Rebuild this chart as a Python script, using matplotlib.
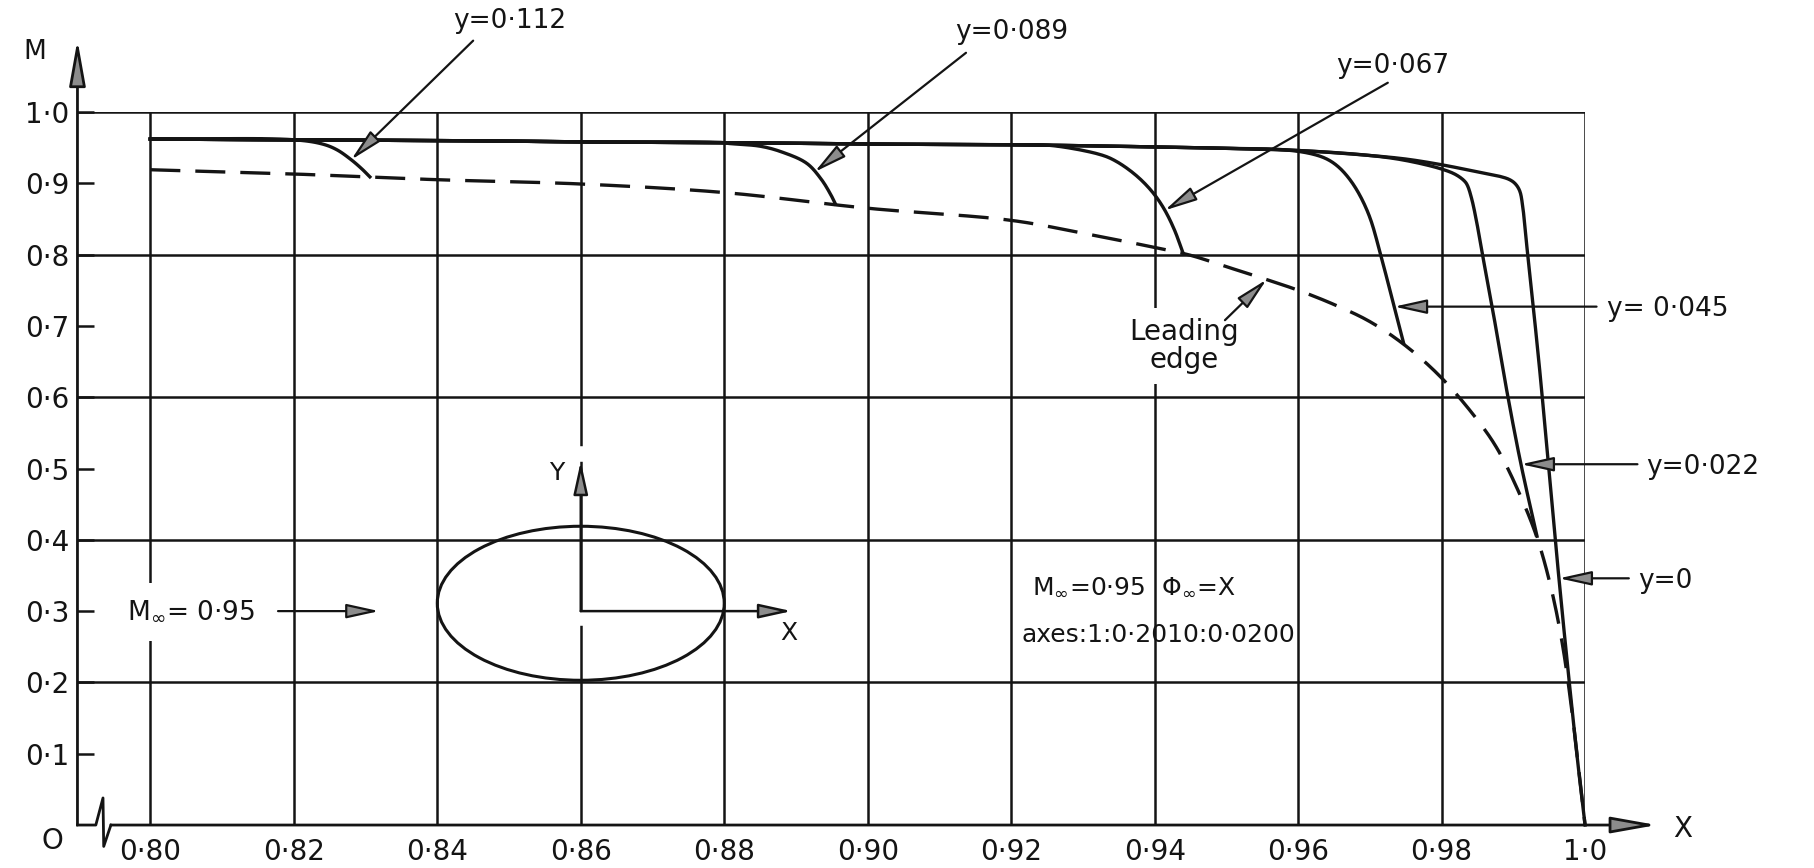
import numpy as np
import matplotlib.pyplot as plt
from matplotlib.patches import Ellipse

plt.rcParams['font.family'] = ['DejaVu Sans']
ink = '#141414'
head_fc = '#8c8c8c'

# --- Mach number along lines y = const (ellipsoid 1:0.2010:0.0200, M_inf = 0.95) ---
# upper branch common to every station
top_x = [0.800, 0.820, 0.840, 0.860, 0.880, 0.900, 0.920, 0.940, 0.950, 0.960, 0.970]
top_m = [0.962, 0.961, 0.960, 0.958, 0.957, 0.955, 0.954, 0.951, 0.949, 0.946, 0.939]

# branch of each station down to the leading edge
y112_x = [0.8200, 0.8240, 0.8260, 0.8280, 0.8295, 0.8306]
y112_m = [0.961, 0.955, 0.947, 0.933, 0.920, 0.909]
y089_x = [0.8805, 0.8850, 0.8880, 0.8915, 0.8935, 0.8948, 0.8955]
y089_m = [0.956, 0.952, 0.944, 0.928, 0.906, 0.885, 0.871]
y067_x = [0.9256, 0.9325, 0.9346, 0.9373, 0.9395, 0.9412, 0.9427, 0.9440]
y067_m = [0.953, 0.940, 0.931, 0.912, 0.890, 0.866, 0.836, 0.801]
y045_x = [0.9580, 0.9620, 0.9640, 0.9655, 0.9670, 0.9685, 0.9700, 0.9715, 0.9731, 0.9747]
y045_m = [0.947, 0.941, 0.934, 0.924, 0.908, 0.885, 0.852, 0.800, 0.738, 0.676]
y022_x = [0.9750, 0.9800, 0.9820, 0.9832, 0.9836, 0.9842, 0.9849, 0.9857, 0.9872, 0.9888,
          0.9910, 0.9933]
y022_m = [0.932, 0.920, 0.912, 0.903, 0.897, 0.878, 0.845, 0.800, 0.718, 0.625,
          0.509, 0.405]
y000_x = [0.9750, 0.9800, 0.9850, 0.9880, 0.9895, 0.9903, 0.9909, 0.9913, 0.9917, 0.9920,
          0.9929, 0.9938, 0.9948, 0.9958, 0.9968, 0.9978, 0.9989, 1.0000]
y000_m = [0.934, 0.926, 0.916, 0.910, 0.905, 0.899, 0.889, 0.868, 0.830, 0.800,
          0.715, 0.625, 0.515, 0.405, 0.300, 0.200, 0.095, 0.000]

# Mach number on the leading edge
le_x = [0.800, 0.820, 0.840, 0.860, 0.880, 0.900, 0.920, 0.930, 0.940, 0.945, 0.950, 0.955,
        0.960, 0.965, 0.970, 0.975, 0.980, 0.985, 0.9878, 0.9908, 0.9933, 0.9952, 0.9968,
        0.9982, 0.9993, 1.000]
le_m = [0.919, 0.913, 0.905, 0.899, 0.887, 0.865, 0.848, 0.830, 0.810, 0.799, 0.783, 0.767,
        0.750, 0.730, 0.706, 0.672, 0.627, 0.568, 0.527, 0.466, 0.403, 0.335, 0.256,
        0.157, 0.060, 0.000]

x_ticks = [0.80, 0.82, 0.84, 0.86, 0.88, 0.90, 0.92, 0.94, 0.96, 0.98, 1.00]
x_labels = ['0·80', '0·82', '0·84', '0·86', '0·88', '0·90', '0·92', '0·94', '0·96', '0·98', '1·0']
m_ticks = [0.1, 0.2, 0.3, 0.4, 0.5, 0.6, 0.7, 0.8, 0.9, 1.0]
m_labels = ['0·1', '0·2', '0·3', '0·4', '0·5', '0·6', '0·7', '0·8', '0·9', '1·0']
m_grid = [0.2, 0.4, 0.6, 0.8, 1.0]

x0 = 0.78984  # position of the M axis


def arrow(tail, tip, lw=1.6, hl=1.0, hw=0.22):
    ax.annotate('', xy=tip, xytext=tail, annotation_clip=False,
                arrowprops=dict(arrowstyle=f'-|>,head_length={hl},head_width={hw}',
                                mutation_scale=20, lw=lw, ec=ink, fc=head_fc,
                                shrinkA=0, shrinkB=0))


def station(bx, bm):
    xs = [x for x in top_x if x < bx[0]] + list(bx)
    ms = [m for x, m in zip(top_x, top_m) if x < bx[0]] + list(bm)
    return xs, ms


def smooth(xs, ms, n=16):
    # centripetal Catmull-Rom through the points, worked out in screen-like units
    sc = np.array([7175.0, 713.0])
    p = np.column_stack([xs, ms]) * sc
    p = np.vstack([2 * p[0] - p[1], p, 2 * p[-1] - p[-2]])
    out = [p[1]]
    for i in range(1, len(p) - 2):
        p0, p1, p2, p3 = p[i - 1], p[i], p[i + 1], p[i + 2]
        t0 = 0.0
        t1 = t0 + np.linalg.norm(p1 - p0) ** 0.5
        t2 = t1 + np.linalg.norm(p2 - p1) ** 0.5
        t3 = t2 + np.linalg.norm(p3 - p2) ** 0.5
        for t in np.linspace(t1, t2, n)[1:]:
            a1 = (t1 - t) / (t1 - t0) * p0 + (t - t0) / (t1 - t0) * p1
            a2 = (t2 - t) / (t2 - t1) * p1 + (t - t1) / (t2 - t1) * p2
            a3 = (t3 - t) / (t3 - t2) * p2 + (t - t2) / (t3 - t2) * p3
            b1 = (t2 - t) / (t2 - t0) * a1 + (t - t0) / (t2 - t0) * a2
            b2 = (t3 - t) / (t3 - t1) * a2 + (t - t1) / (t3 - t1) * a3
            out.append((t2 - t) / (t2 - t1) * b1 + (t - t1) / (t2 - t1) * b2)
    out = np.array(out) / sc
    return out[:, 0], out[:, 1]


fig = plt.figure(figsize=(18.14, 8.68), dpi=100)
ax = fig.add_axes([0.0427, 0.0495, 0.8311, 0.8215])
ax.set_xlim(x0, 1.0)
ax.set_ylim(0.0, 1.0)
for s in ax.spines.values():
    s.set_visible(False)

# grid
ax.vlines(x_ticks, 0, 1.0, color=ink, lw=1.8, zorder=1)
ax.hlines(m_grid, x0, 1.0, color=ink, lw=1.8, zorder=1)

# axes with arrows and a break in the x axis
arrow((x0, 0.0), (x0, 1.101), lw=2.0, hl=1.4, hw=0.25)
zig_x = [x0, 0.7924, 0.7934, 0.7935, 0.7945]
zig_y = [0.0, 0.0, 0.038, -0.030, 0.0]
ax.plot(zig_x, zig_y, color=ink, lw=2.0, clip_on=False, zorder=4)
arrow((0.7945, 0.0), (1.0100, 0.0), lw=2.0, hl=1.4, hw=0.25)
ax.text(1.0123, -0.005, 'X', fontsize=20, color=ink, ha='left', va='center')
ax.text(0.7839, 1.084, 'M', fontsize=19, color=ink, ha='center', va='center')
ax.text(0.7864, -0.0225, 'O', fontsize=20, color=ink, ha='center', va='center')

ax.set_xticks(x_ticks)
ax.set_xticklabels(x_labels)
ax.tick_params(axis='x', length=0, pad=9, labelsize=20, labelcolor=ink)
ax.set_yticks(m_ticks)
ax.set_yticklabels(m_labels)
ax.tick_params(axis='y', direction='in', length=12, width=1.8, color=ink,
               pad=6, labelsize=20, labelcolor=ink)

# curves
for bx, bm in [(y112_x, y112_m), (y089_x, y089_m), (y067_x, y067_m),
               (y045_x, y045_m), (y022_x, y022_m), (y000_x, y000_m)]:
    sx, sm = smooth(*station(bx, bm))
    ax.plot(sx, sm, color=ink, lw=2.4, solid_joinstyle='round', zorder=3, clip_on=False)
sx, sm = smooth(le_x, le_m)
ax.plot(sx, sm, color=ink, lw=2.4, ls=(0, (9, 4.5)), zorder=3, clip_on=False)

# station labels
lab = dict(fontsize=19, color=ink)
ax.text(0.8501, 1.127, 'y=0·112', ha='center', va='center', **lab)
arrow((0.8450, 1.100), (0.8280, np.interp(0.8280, y112_x, y112_m)))
ax.text(0.9201, 1.112, 'y=0·089', ha='center', va='center', **lab)
arrow((0.9137, 1.083), (0.8926, np.interp(0.8926, y089_x, y089_m)))
ax.text(0.9732, 1.065, 'y=0·067', ha='center', va='center', **lab)
arrow((0.9725, 1.041), (0.9414, np.interp(0.9414, y067_x, y067_m)))

for m_at, bx, bm, x_tail, x_txt, txt in [
        (0.727, y045_x, y045_m, 1.0016, 1.0031, 'y= 0·045'),
        (0.506, y022_x, y022_m, 1.0073, 1.0085, 'y=0·022'),
        (0.346, y000_x, y000_m, 1.0061, 1.0074, 'y=0')]:
    x_tip = np.interp(m_at, bm[::-1], bx[::-1])
    arrow((x_tail, m_at), (x_tip, m_at))
    ax.text(x_txt, m_at - 0.004, txt, ha='left', va='center', **lab)

# leading edge label
ax.text(0.9441, 0.672, 'Leading\nedge', ha='center', va='center', fontsize=20,
        color=ink, linespacing=1.0, zorder=2,
        bbox=dict(boxstyle='square,pad=0.35', fc='white', ec='none'))
arrow((0.9498, 0.708), (0.9556, np.interp(0.9556, le_x, le_m)))

# sketch of the body and free stream
ell_c, ell_w, ell_h = (0.8600, 0.311), 0.040, 0.216
ax.add_patch(Ellipse(ell_c, ell_w, ell_h, fill=False, ec=ink, lw=2.2, zorder=3))
ax.plot([0.86, 0.86], [0.283, 0.297], color='white', lw=4, zorder=2)
ax.plot([0.86, 0.86], [0.513, 0.527], color='white', lw=4, zorder=2)
arrow((0.86, 0.30), (0.86, 0.51), lw=1.8)
arrow((0.86, 0.30), (0.8894, 0.30), lw=1.8)
ax.text(0.8567, 0.494, 'Y', fontsize=18, color=ink, ha='center', va='center')
ax.text(0.8890, 0.269, 'X', fontsize=18, color=ink, ha='center', va='center')

ax.text(0.7967, 0.299, 'M$_{\\infty}$= 0·95', fontsize=19, color=ink, ha='left', va='center',
        zorder=2, bbox=dict(boxstyle='square,pad=0.6', fc='white', ec='none'))
arrow((0.8178, 0.30), (0.8319, 0.30))

ax.text(0.9229, 0.334, 'M$_{\\infty}$=0·95  $\\Phi_{\\infty}$=X', fontsize=18, color=ink,
        ha='left', va='center')
ax.text(0.9215, 0.266, 'axes:1:0·2010:0·0200', fontsize=18, color=ink,
        ha='left', va='center')

fig.savefig('out.png', dpi=100, facecolor='white')
